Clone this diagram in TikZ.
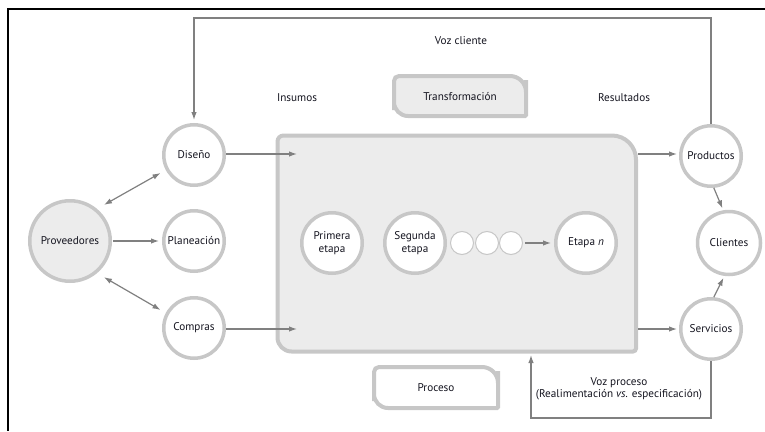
\documentclass[tikz,border=0pt]{standalone}
\usepackage{fontspec}
\setmainfont{PT Sans}
\usetikzlibrary{arrows.meta}
\begin{document}
\begin{tikzpicture}[>={Latex[length=8pt,width=5.5pt]}, x=1pt, y=-1pt,
		every node/.style={font=\fontsize{11.2}{12.5}\selectfont, text=texto},
		etapa/.style={circle, draw=borde, line width=3.5pt, fill=white, minimum size=60.5pt, inner sep=0pt, align=center},
		puntito/.style={circle, draw=borde, line width=1pt, fill=white, minimum size=23pt, inner sep=0pt},
		flecha/.style={draw=linea, line width=1.2pt},
		caja/.style={draw=borde, line width=4pt}]
			\definecolor{borde}{rgb}{0.78,0.78,0.78}
			\definecolor{fondo}{rgb}{0.925,0.925,0.925}
			\definecolor{linea}{rgb}{0.5,0.5,0.5}
			\definecolor{texto}{rgb}{0.08,0.08,0.12}

				\useasboundingbox (0,0) rectangle (765,431);
				\draw[line width=2pt] (765,9) -- (8,9) -- (8,431);

				% caja del proceso, esquinas desiguales
				\draw[caja, fill=fondo] (277.5,245) [rounded corners=6] -- (277.5,135.5) -- (450,135.5) [rounded corners=24] -- (636,135.5) -- (636,245) [rounded corners=3] -- (636,351.5) -- (450,351.5) [rounded corners=14] -- (277.5,351.5) -- cycle;
				\draw[caja, fill=fondo] (394,96) [rounded corners=5] -- (394,76) -- (460,76) [rounded corners=16] -- (526,76) -- (526,96) [rounded corners=1] -- (526,116) -- (460,116) [rounded corners=14] -- (394,116) -- cycle;
				\draw[caja, fill=white] (374,387) [rounded corners=5] -- (374,367) -- (436,367) [rounded corners=16] -- (498,367) -- (498,387) [rounded corners=1] -- (498,408) -- (436,408) [rounded corners=14] -- (374,408) -- cycle;
				\node (transf) at (460,97) {Transformación};
				\node (proceso) at (436,388) {Proceso};

				\node (insumos) at (297,98) {Insumos};
				\node (result) at (624,98) {Resultados};
				\node (vozc) at (461,41) {Voz cliente};
				\node[align=center] (vozp) at (619,389) {Voz proceso\\(Realimentación \textit{vs.} especificación)};

				% circulos
				\node[etapa, fill=fondo, minimum size=80.5pt] (prov) at (70,241) {Proveedores};
				\node[etapa] (dis) at (194,155) {Diseño};
				\node[etapa] (plan) at (194,241) {Planeación};
				\node[etapa] (comp) at (194,328) {Compras};
				\node[etapa] (e1) at (332,243) {Primera\\etapa};
				\node[etapa] (e2) at (415,243) {Segunda\\etapa};
				\foreach \x/\n in {462/p1, 487/p2, 511/p3}{
						\node[puntito] (\n) at (\x,243) {};
					}
				\node[etapa] (en) at (586,243) {Etapa \textit{n}};
				\node[etapa] (prod) at (711,156) {Productos};
				\node[etapa, minimum size=63pt] (cli) at (729,243) {Clientes};
				\node[etapa] (serv) at (711,329) {Servicios};

				\coordinate (entra1) at (297,154);
				\coordinate (entra2) at (297,329);
				\coordinate (sale1) at (638,154);
				\coordinate (sale2) at (638,329);
				\coordinate (arriba) at (0,18);
				\coordinate (abajo) at (0,418);
				\coordinate (caja-s) at (531,355);

				% conectores
				\draw[flecha, <->, shorten <=8pt, shorten >=6pt] (prov.50) -- (dis.208);
				\draw[flecha, <->, shorten <=8pt, shorten >=6pt] (prov.-50) -- (comp.152);
				\draw[flecha, ->, shorten <=1pt, shorten >=3pt] (prov) -- (plan);
				\draw[flecha, ->] (dis.east |- entra1) -- (entra1);
				\draw[flecha, ->] (comp.east |- entra2) -- (entra2);
				\draw[flecha, ->, shorten >=2pt] (sale1) -- (sale1 -| prod.west);
				\draw[flecha, ->, shorten >=2pt] (sale2) -- (sale2 -| serv.west);
				\draw[flecha, ->, shorten <=2pt, shorten >=3pt] (p3) -- (en);
				\draw[flecha, ->, shorten >=2pt] (prod.-85) -- (cli.100);
				\draw[flecha, ->, shorten >=2pt] (serv.85) -- (cli.-98);
				\draw[flecha, ->, shorten >=3pt] (prod.north) |- (arriba -| dis.north) -- (dis.north);
				\draw[flecha, ->] (serv.south) |- (abajo -| caja-s) -- (caja-s);
		\end{tikzpicture}
\end{document}
